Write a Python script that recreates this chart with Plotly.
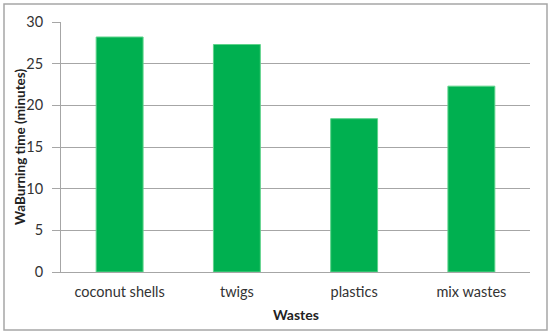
import plotly.graph_objects as go

categories = ["coconut shells", "twigs", "plastics", "mix wastes"]
burning_time = [28.2, 27.3, 18.4, 22.3]
y_ticks = [0, 5, 10, 15, 20, 25, 30]

fig = go.Figure()
fig.add_trace(go.Bar(
    x=categories, y=burning_time,
    marker=dict(color="#00B050", line=dict(color="#5ED38B", width=1)),
    width=0.4,
))

font_family = "Lato, 'Liberation Sans', Arial, sans-serif"
W, H = 551, 334
L, R, T, B = 61, 21, 22, 62
pw, ph = W - L - R, H - T - B

fig.update_layout(
    width=W, height=H,
    margin=dict(l=L, r=R, t=T, b=B),
    paper_bgcolor="white", plot_bgcolor="white",
    font=dict(family=font_family, size=14, color="#333333"),
    showlegend=False,
    xaxis=dict(
        showline=True, linecolor="#A6A6A6", linewidth=1,
        ticks="", tickfont=dict(size=14.5, color="#333333"),
        ticklabelstandoff=7,
    ),
    yaxis=dict(
        range=[0, 30], tickvals=y_ticks,
        showgrid=True, gridcolor="#A6A6A6", gridwidth=1,
        showline=True, linecolor="#A6A6A6", linewidth=1,
        ticks="outside", ticklen=8, tickcolor="#A6A6A6",
        tickfont=dict(size=14.5, color="#333333"),
        ticklabelstandoff=6,
        zeroline=False,
    ),
    annotations=[
        dict(text="<b>Wastes</b>", xref="paper", yref="paper",
             x=0.5, y=-(314 - T - ph) / ph, xanchor="center", yanchor="middle",
             showarrow=False, font=dict(size=14, color="#222222")),
        dict(text="<b>WaBurning time (minutes)</b>", xref="paper", yref="paper",
             x=(20 - L) / pw, y=0.5, xanchor="center", yanchor="middle", textangle=-90,
             showarrow=False, font=dict(size=13.5, color="#222222")),
    ],
    shapes=[dict(type="rect", xref="paper", yref="paper",
                 x0=-(L - 4) / pw, x1=1 + (R - 4) / pw,
                 y0=-(B - 4) / ph, y1=1 + (T - 4) / ph,
                 line=dict(color="#A6A6A6", width=1.5), layer="above")],
)

fig.write_html("out.html", config={"displayModeBar": False},
               post_script="document.body.style.margin='0';document.body.style.overflow='hidden';")
